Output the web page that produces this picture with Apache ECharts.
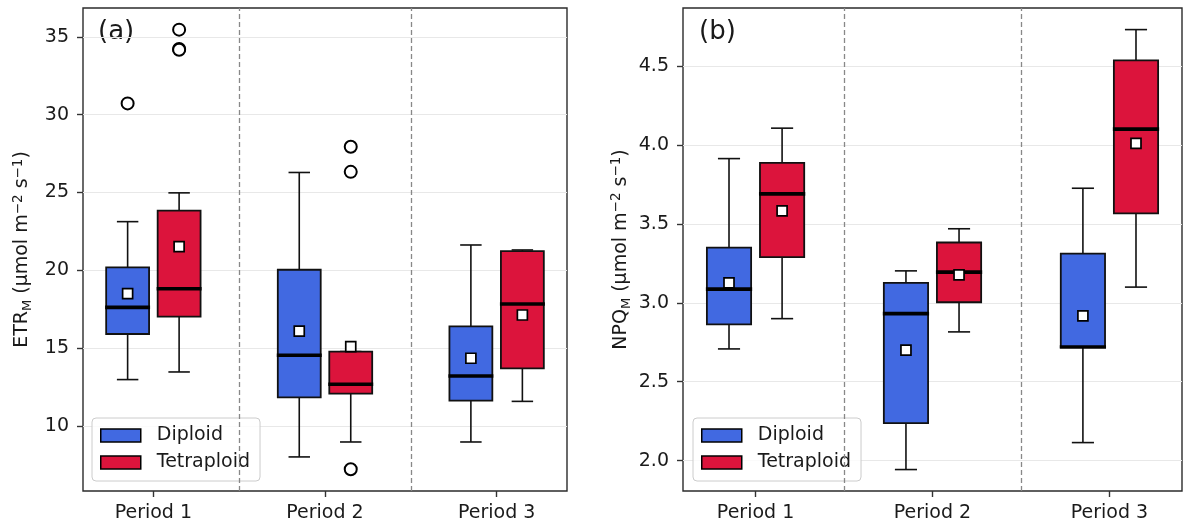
<!DOCTYPE html>
<html>
<head>
<meta charset="utf-8">
<script src="https://cdn.jsdelivr.net/npm/echarts@6/dist/echarts.min.js"></script>
<style>
  html, body { margin: 0; padding: 0; background: #ffffff; }
  #chart { width: 1187px; height: 528px; }
</style>
</head>
<body>
<div id="chart"></div>
<script>
// Categories
const periods = ['Period 1', 'Period 2', 'Period 3'];
const groups = ['Diploid', 'Tetraploid'];

// Box summaries per period: [lower whisker, Q1, median, Q3, upper whisker]
const etrDiploid = [
  [12.98, 15.91, 17.62, 20.19, 23.13],
  [8.01, 11.84, 14.54, 20.04, 26.29],
  [8.97, 11.63, 13.21, 16.40, 21.63]
];
const etrTetraploid = [
  [13.47, 17.02, 18.82, 23.84, 24.98],
  [8.97, 12.08, 12.68, 14.78, 14.78],
  [11.58, 13.70, 17.84, 21.24, 21.31]
];
const npqDiploid = [
  [2.708, 2.864, 3.087, 3.350, 3.915],
  [1.943, 2.237, 2.932, 3.127, 3.203],
  [2.114, 2.720, 2.720, 3.312, 3.727]
];
const npqTetraploid = [
  [2.900, 3.290, 3.691, 3.888, 4.108],
  [2.816, 3.004, 3.195, 3.383, 3.470],
  [3.100, 3.568, 4.102, 4.538, 4.733]
];

// Means per period
const etrDiploidMean = [18.50, 16.10, 14.35];
const etrTetraploidMean = [21.52, 15.10, 17.13];
const npqDiploidMean = [3.127, 2.700, 2.917];
const npqTetraploidMean = [3.583, 3.178, 4.011];

// Outliers: [period index, value]
const etrDiploidOutliers = [[0, 30.73]];
const etrTetraploidOutliers = [[0, 35.47], [0, 34.23], [0, 34.18], [1, 27.94], [1, 26.33], [1, 7.22]];
const npqDiploidOutliers = [];
const npqTetraploidOutliers = [];

// Tick values
const etrTicks = [10, 15, 20, 25, 30, 35];
const npqTicks = [2.0, 2.5, 3.0, 3.5, 4.0, 4.5];
const periodTicks = [0, 1, 2];
const periodDividers = [0.5, 1.5];

const COLORS = { Diploid: '#4169E1', Tetraploid: '#DC143C' };
const OFFSET = { Diploid: -0.15, Tetraploid: 0.15 };
const BOX_WIDTH = 0.25;
const FONT = 'DejaVu Sans';
const TEXT = '#1a1a1a';
const FS = 19;

function renderBox(params, api) {
  const x = api.value(0);
  const lo = api.coord([x, api.value(1)]);
  const q1 = api.coord([x, api.value(2)]);
  const med = api.coord([x, api.value(3)]);
  const q3 = api.coord([x, api.value(4)]);
  const hi = api.coord([x, api.value(5)]);
  const w = api.size([BOX_WIDTH, 0])[0];
  const cx = q1[0];
  const color = api.visual('color');
  const lineStyle = { stroke: '#111', lineWidth: 1.6, fill: null };
  return {
    type: 'group',
    children: [
      { type: 'line', shape: { x1: cx, y1: q1[1], x2: cx, y2: lo[1] }, style: lineStyle },
      { type: 'line', shape: { x1: cx, y1: q3[1], x2: cx, y2: hi[1] }, style: lineStyle },
      { type: 'line', shape: { x1: cx - w / 4, y1: lo[1], x2: cx + w / 4, y2: lo[1] }, style: lineStyle },
      { type: 'line', shape: { x1: cx - w / 4, y1: hi[1], x2: cx + w / 4, y2: hi[1] }, style: lineStyle },
      { type: 'rect', shape: { x: cx - w / 2, y: q3[1], width: w, height: q1[1] - q3[1] },
        style: { fill: color, stroke: '#111', lineWidth: 1.8 } },
      { type: 'line', shape: { x1: cx - w / 2 - 1, y1: med[1], x2: cx + w / 2 + 1, y2: med[1] },
        style: { stroke: '#000', lineWidth: 3.6 } }
    ]
  };
}

function boxSeries(name, summary, gridIdx, withDividers) {
  const s = {
    type: 'custom',
    name: name,
    xAxisIndex: gridIdx,
    yAxisIndex: gridIdx,
    itemStyle: { color: COLORS[name] },
    renderItem: renderBox,
    encode: { x: 0, y: [1, 2, 3, 4, 5] },
    data: summary.map((row, i) => [i + OFFSET[name]].concat(row)),
    z: 2
  };
  if (withDividers) {
    s.markLine = {
      silent: true,
      symbol: 'none',
      label: { show: false },
      lineStyle: { color: '#888888', type: [5, 3], width: 1.3 },
      data: periodDividers.map(v => ({ xAxis: v }))
    };
  }
  return s;
}

function meanSeries(name, means, gridIdx) {
  return {
    type: 'scatter',
    xAxisIndex: gridIdx,
    yAxisIndex: gridIdx,
    symbol: 'rect',
    symbolSize: 10,
    itemStyle: { color: '#ffffff', borderColor: '#000', borderWidth: 1.7, opacity: 1 },
    data: means.map((m, i) => [i + OFFSET[name], m]),
    z: 5
  };
}

function outlierSeries(name, outliers, gridIdx) {
  return {
    type: 'scatter',
    xAxisIndex: gridIdx,
    yAxisIndex: gridIdx,
    symbol: 'circle',
    symbolSize: 12,
    itemStyle: { color: '#ffffff', borderColor: '#000', borderWidth: 2, opacity: 1 },
    data: outliers.map(o => [o[0] + OFFSET[name], o[1]]),
    z: 5
  };
}

function xAxis(gridIdx) {
  return {
    type: 'value',
    gridIndex: gridIdx,
    min: -0.41,
    max: 2.41,
    axisLine: { show: false, onZero: false },
    axisTick: { show: true, length: 6, customValues: periodTicks, lineStyle: { color: '#333', width: 1.4 } },
    axisLabel: { customValues: periodTicks, margin: 13, fontSize: FS, fontFamily: FONT, color: TEXT,
                 formatter: v => periods[Math.round(v)] },
    splitLine: { show: false }
  };
}

function yAxis(gridIdx, min, max, ticks, digits, richName) {
  return {
    type: 'value',
    gridIndex: gridIdx,
    min: min,
    max: max,
    name: richName,
    nameLocation: 'middle',
    nameRotate: 90,
    nameGap: 47,
    nameTextStyle: {
      fontFamily: FONT, color: TEXT, fontSize: FS,
      rich: {
        n: { fontFamily: FONT, fontSize: FS, color: TEXT, lineHeight: 27, verticalAlign: 'middle' },
        sub: { fontFamily: FONT, fontSize: 13, color: TEXT, lineHeight: 27, verticalAlign: 'bottom', padding: [0, 0, 2, 0] },
        sup: { fontFamily: FONT, fontSize: 13.5, color: TEXT, lineHeight: 27, verticalAlign: 'top', padding: [2, 0, 0, 0] }
      }
    },
    axisLine: { show: false, onZero: false },
    axisTick: { show: true, length: 6, customValues: ticks, lineStyle: { color: '#333', width: 1.4 } },
    axisLabel: { customValues: ticks, margin: 14, fontSize: FS, fontFamily: FONT, color: TEXT,
                 formatter: v => v.toFixed(digits) },
    splitLine: { show: true, lineStyle: { color: '#e8e8e8', width: 1.2 } }
  };
}

function legend(left) {
  return {
    orient: 'vertical',
    left: left,
    top: 418,
    itemWidth: 40,
    itemHeight: 13,
    itemGap: 8,
    padding: [8, 10, 9, 8],
    backgroundColor: 'rgba(255,255,255,0.8)',
    borderColor: '#cccccc',
    borderWidth: 1,
    borderRadius: 4,
    icon: 'rect',
    selectedMode: false,
    textStyle: { fontFamily: FONT, fontSize: FS, color: TEXT, padding: [0, 0, 0, 11] },
    data: groups.map(g => ({ name: g, icon: 'rect',
      itemStyle: { color: COLORS[g], borderColor: '#000', borderWidth: 1.5 } }))
  };
}

const etrName = '{n|ETR}{sub|M}{n| (μmol m}{sup|−2}{n| s}{sup|−1}{n|)}';
const npqName = '{n|NPQ}{sub|M}{n| (μmol m}{sup|−2}{n| s}{sup|−1}{n|)}';

const option = {
  backgroundColor: '#ffffff',
  animation: false,
  grid: [
    { left: 83, top: 8, width: 484, height: 483, show: true, borderColor: '#2b2b2b', borderWidth: 1.4, backgroundColor: 'transparent' },
    { left: 683, top: 8, width: 499, height: 483, show: true, borderColor: '#2b2b2b', borderWidth: 1.4, backgroundColor: 'transparent' }
  ],
  xAxis: [xAxis(0), xAxis(1)],
  yAxis: [
    yAxis(0, 5.82, 36.86, etrTicks, 0, etrName),
    yAxis(1, 1.807, 4.87, npqTicks, 1, npqName)
  ],
  legend: [legend(92), legend(693)],
  graphic: [
    { type: 'text', left: 98, top: 19, style: { text: '(a)', font: '26px "DejaVu Sans"', fill: TEXT } },
    { type: 'text', left: 699, top: 19, style: { text: '(b)', font: '26px "DejaVu Sans"', fill: TEXT } }
  ],
  series: [
    boxSeries('Diploid', etrDiploid, 0, true),
    boxSeries('Tetraploid', etrTetraploid, 0, false),
    meanSeries('Diploid', etrDiploidMean, 0),
    meanSeries('Tetraploid', etrTetraploidMean, 0),
    outlierSeries('Diploid', etrDiploidOutliers, 0),
    outlierSeries('Tetraploid', etrTetraploidOutliers, 0),
    boxSeries('Diploid', npqDiploid, 1, true),
    boxSeries('Tetraploid', npqTetraploid, 1, false),
    meanSeries('Diploid', npqDiploidMean, 1),
    meanSeries('Tetraploid', npqTetraploidMean, 1),
    outlierSeries('Diploid', npqDiploidOutliers, 1),
    outlierSeries('Tetraploid', npqTetraploidOutliers, 1)
  ]
};

const chart = echarts.init(document.getElementById('chart'), null, { renderer: 'canvas' });
chart.setOption(option);
</script>
</body>
</html>
